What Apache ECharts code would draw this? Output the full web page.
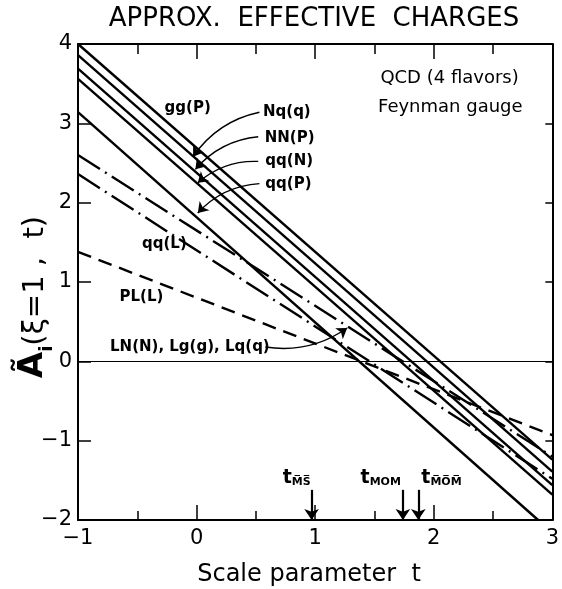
<!DOCTYPE html>
<html><head><meta charset="utf-8">
<script src="https://cdn.jsdelivr.net/npm/echarts@6/dist/echarts.min.js"></script>
<style>html,body{margin:0;padding:0;background:#fff}#c{width:562px;height:589px}</style>
</head><body><div id="c"></div>
<script>
// ---- data ----
const xTicks = [-1, 0, 1, 2, 3];
const yTicks = [-2, -1, 0, 1, 2, 3, 4];
const tEnds = [-1, 3];
const ggP = [4.00, -1.24];
const NqQ = [3.86, -1.39];
const NNP = [3.69, -1.56];
const qqN = [3.56, -1.68];
const qqPt = [-1, 2.88];
const qqP = [3.14, -2.00];
const LNgq = [2.60, -1.20];
const qqL = [2.36, -1.48];
const PLL = [1.38, -0.93];
const markT = [0.97, 1.74, 1.87];          // t_MSbar, t_MOM, t_MOMbar
const markTop = [-1.62, -1.62, -1.62];
const markSub = ['M\u0305S\u0305', 'MOM', 'M\u0305O\u0305M\u0305'];

const zip = (xs, ys) => xs.map((x, i) => [x, ys[i]]);

const FONT = 'DejaVu Sans';
const chart = echarts.init(document.getElementById('c'), null, {renderer: 'canvas'});

const solid = {type: 'solid', width: 2.4, color: '#000'};
const mkLine = (name, data, ls) => ({
  name, type: 'line', data, showSymbol: false, symbol: 'none', clip: true,
  lineStyle: ls, silent: true, animation: false
});

// curved label arrows: [start(label side), tip]
const arrowDefs = [
  {from: [0.53, 3.14], to: [-0.03, 2.58]},
  {from: [0.52, 2.83], to: [-0.01, 2.42]},
  {from: [0.52, 2.52], to: [0.01, 2.25]},
  {from: [0.53, 2.24], to: [0.01, 1.87]},
  {from: [0.58, 0.18], to: [1.27, 0.42]}
];

const curvedArrows = {
  name: 'labelArrows', type: 'lines', coordinateSystem: 'cartesian2d',
  silent: true, animation: false,
  symbol: ['none', 'arrow'], symbolSize: [7, 10],
  lineStyle: {color: '#000', width: 1.4, type: 'solid', curveness: -0.2, opacity: 1},
  data: arrowDefs.map(a => ({coords: [a.from, a.to]}))
};
const scaleArrows = {
  name: 'scaleArrows', type: 'lines', coordinateSystem: 'cartesian2d',
  silent: true, animation: false,
  symbol: ['none', 'arrow'], symbolSize: [8, 11],
  lineStyle: {color: '#000', width: 2.2, type: 'solid', curveness: 0, opacity: 1},
  data: markT.map((t, i) => ({coords: [[t, markTop[i]], [t, -2]]}))
};

const zeroSeries = {
  name: 'zero', type: 'line', data: [], silent: true, animation: false,
  markLine: {
    silent: true, animation: false, symbol: ['none', 'none'], label: {show: false},
    lineStyle: {color: '#000', width: 1.2, type: 'solid'},
    data: [{yAxis: 0}]
  }
};

const xAxisBase = {
  type: 'value', min: xTicks[0], max: xTicks[xTicks.length - 1], interval: 1,
  axisLine: {show: true, onZero: false, lineStyle: {color: '#000', width: 2}},
  axisTick: {show: true, inside: true, length: 15, lineStyle: {color: '#000', width: 1.5}},
  minorTick: {show: true, splitNumber: 2, length: 9, lineStyle: {color: '#000', width: 1.5}},
  splitLine: {show: false}
};
const yAxisBase = {
  type: 'value', min: yTicks[0], max: yTicks[yTicks.length - 1], interval: 1,
  axisLine: {show: true, onZero: false, lineStyle: {color: '#000', width: 2}},
  splitLine: {show: false}
};

chart.setOption({
  animation: false,
  backgroundColor: '#fff',
  grid: {left: 78, right: 4, top: 44, bottom: 69, containLabel: false},
  xAxis: [
    Object.assign({}, xAxisBase, {position: 'bottom',
      axisLabel: {show: true, margin: 8, color: '#000', fontFamily: FONT, fontSize: 21,
        formatter: v => String(v).replace('-', '\u2212')}}),
    Object.assign({}, xAxisBase, {position: 'top', axisLabel: {show: false},
      minorTick: {show: true, splitNumber: 2, length: 10, lineStyle: {color: '#000', width: 1.5}}})
  ],
  yAxis: [
    Object.assign({}, yAxisBase, {position: 'left',
      axisTick: {show: true, inside: true, length: 13, lineStyle: {color: '#000', width: 1.5}},
      axisLabel: {show: true, margin: 6, color: '#000', fontFamily: FONT, fontSize: 21,
        formatter: v => String(v).replace('-', '\u2212')}}),
    Object.assign({}, yAxisBase, {position: 'right',
      axisTick: {show: true, inside: true, length: 7, lineStyle: {color: '#000', width: 1.5}},
      axisLabel: {show: false}})
  ],
  series: [
    zeroSeries,
    mkLine('gg(P)', zip(tEnds, ggP), solid),
    mkLine('Nq(q)', zip(tEnds, NqQ), solid),
    mkLine('NN(P)', zip(tEnds, NNP), solid),
    mkLine('qq(N)', zip(tEnds, qqN), solid),
    mkLine('qq(P)', zip(qqPt, qqP), solid),
    mkLine('LN(N), Lg(g), Lq(q)', zip(tEnds, LNgq), {type: [26, 6, 2, 6], width: 2.4, color: '#000'}),
    mkLine('qq(L)', zip(tEnds, qqL), {type: [26, 6, 2, 6], width: 2.4, color: '#000'}),
    mkLine('PL(L)', zip(tEnds, PLL), {type: [14, 8], width: 2.4, color: '#000'}),
    curvedArrows,
    scaleArrows
  ]
});

// ---- text annotations (positions in data coordinates of the grid) ----
const px = p => chart.convertToPixel({xAxisIndex: 0, yAxisIndex: 0}, p);
const labelStyle = {fill: '#000', fontFamily: FONT, fontSize: 15, fontWeight: 'bold'};
const annots = [
  {text: 'gg(P)', at: [-0.27, 3.19]},
  {text: 'Nq(q)', at: [0.56, 3.14]},
  {text: 'NN(P)', at: [0.575, 2.82]},
  {text: 'qq(N)', at: [0.58, 2.52]},
  {text: 'qq(P)', at: [0.58, 2.23]},
  {text: 'qq(L)', at: [-0.46, 1.48]},
  {text: 'PL(L)', at: [-0.65, 0.81]},
  {text: 'LN(N), Lg(g), Lq(q)', at: [-0.73, 0.18]}
];
const graphics = annots.map(a => {
  const p = px(a.at);
  return {type: 'text', x: p[0], y: p[1],
    style: Object.assign({text: a.text, align: 'left', verticalAlign: 'middle'}, labelStyle)};
});
[['QCD (4 flavors)', [1.55, 3.57]], ['Feynman gauge', [1.53, 3.20]]].forEach(([t, at]) => {
  const p = px(at);
  graphics.push({type: 'text', x: p[0], y: p[1],
    style: {text: t, align: 'left', verticalAlign: 'middle', fill: '#000', fontFamily: FONT, fontSize: 18}});
});
// t labels above the scale arrows
const tAlign = ['right', 'right', 'left'];
const tOff = [-1, -2, 3];
markT.forEach((t, i) => {
  const p = px([t, markTop[i]]);
  graphics.push({type: 'text', x: p[0] + tOff[i], y: p[1] - 2,
    style: {
      rich: {
        t: {fontFamily: FONT, fontSize: 19, fontWeight: 'bold', fill: '#000', lineHeight: 22, verticalAlign: 'bottom'},
        s: {fontFamily: FONT, fontSize: 11, fontWeight: 'bold', fill: '#000', lineHeight: 12, verticalAlign: 'bottom'}
      },
      text: '{t|t}{s|' + markSub[i] + '}', align: tAlign[i], verticalAlign: 'bottom'
    }});
});
// title
graphics.push({type: 'text', x: 314, y: 19,
  style: {text: 'APPROX.  EFFECTIVE  CHARGES', align: 'center', verticalAlign: 'middle',
    fill: '#000', fontFamily: FONT, fontSize: 26}});
// x axis name
graphics.push({type: 'text', x: 309, y: 575,
  style: {text: 'Scale parameter  t', align: 'center', verticalAlign: 'middle',
    fill: '#000', fontFamily: FONT, fontSize: 24}});
// y axis name (rotated)
graphics.push({type: 'text', x: 32, y: 297, rotation: Math.PI / 2,
  style: {
    rich: {
      a: {fontFamily: FONT, fontSize: 34, fontWeight: 'bold', fill: '#000', lineHeight: 36, verticalAlign: 'bottom'},
      i: {fontFamily: FONT, fontSize: 18, fontWeight: 'bold', fill: '#000', lineHeight: 18, verticalAlign: 'bottom', padding: [0, 0, -6, 0]},
      b: {fontFamily: FONT, fontSize: 29, fill: '#000', lineHeight: 36, verticalAlign: 'bottom'}
    },
    text: '{a|\u00C3}{i|i}{b|(\u03BE=1 ,  t)}', align: 'center', verticalAlign: 'middle'
  }});
chart.setOption({graphic: graphics});
</script>
</body></html>
